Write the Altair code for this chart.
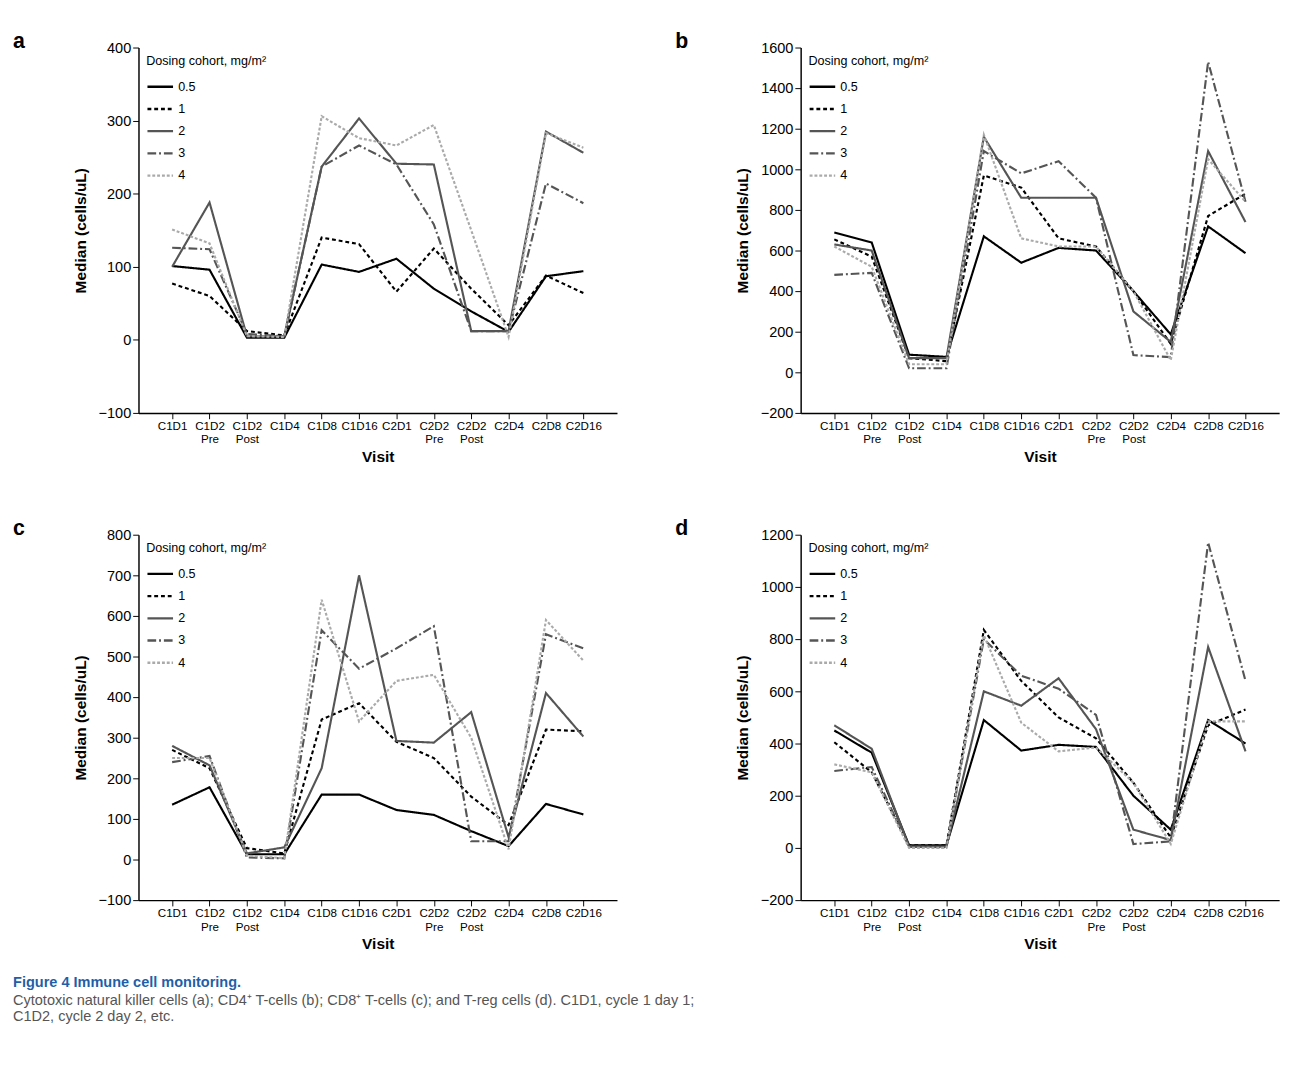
import altair as alt
import pandas as pd

visits = ["C1D1", "C1D2|Pre", "C1D2|Post", "C1D4", "C1D8", "C1D16", "C2D1",
          "C2D2|Pre", "C2D2|Post", "C2D4", "C2D8", "C2D16"]
cohorts = ["0.5", "1", "2", "3", "4"]

a_05 = [101, 96, 3, 3, 103, 93, 111, 70, 39, 11, 87, 94]
a_1 = [77, 60, 12, 6, 140, 131, 66, 125, 70, 20, 88, 64]
a_2 = [100, 188, 5, 5, 237, 303, 241, 240, 12, 12, 285, 256]
a_3 = [126, 124, 8, 5, 237, 266, 240, 158, 12, 12, 214, 187]
a_4 = [151, 132, 5, 4, 306, 276, 266, 294, 150, 4, 283, 263]

b_05 = [689, 640, 87, 76, 670, 540, 613, 600, 400, 187, 719, 587]
b_1 = [655, 570, 70, 55, 970, 910, 660, 620, 400, 140, 770, 880]
b_2 = [630, 600, 70, 70, 1160, 860, 860, 860, 300, 150, 1090, 740]
b_3 = [480, 490, 20, 20, 1090, 980, 1040, 860, 85, 75, 1530, 840]
b_4 = [620, 520, 40, 40, 1170, 660, 620, 620, 400, 60, 1050, 840]

c_05 = [135, 178, 13, 13, 160, 160, 122, 110, 70, 33, 137, 111]
c_1 = [270, 225, 28, 15, 345, 385, 290, 250, 155, 85, 320, 316]
c_2 = [280, 232, 15, 30, 225, 700, 292, 288, 363, 55, 410, 303]
c_3 = [240, 255, 5, 3, 565, 470, 520, 575, 45, 45, 555, 520]
c_4 = [250, 250, 10, 3, 640, 340, 440, 455, 300, 25, 590, 490]

d_05 = [450, 365, 10, 10, 490, 373, 395, 387, 200, 70, 490, 400]
d_1 = [405, 290, 10, 10, 835, 640, 500, 420, 250, 40, 470, 530]
d_2 = [470, 380, 5, 5, 600, 545, 650, 455, 70, 30, 770, 370]
d_3 = [295, 310, 5, 3, 800, 660, 610, 510, 15, 25, 1170, 640]
d_4 = [320, 290, 0, 0, 815, 480, 370, 385, 250, 15, 485, 485]

colors = ["#000000", "#000000", "#555555", "#555555", "#aaaaaa"]
dashes = [[1, 0], [4, 3], [1, 0], [9, 3, 2, 3], [3, 2]]
widths = [2.2, 2.2, 2, 2, 2]


def panel(letter, series, lo, hi, step):
    rows = []
    for c, vals in zip(cohorts, series):
        for v, y in zip(visits, vals):
            rows.append({"Visit": v, "cohort": c, "value": y})
    df = pd.DataFrame(rows)
    leg_title = "Dosing cohort, mg/m²"
    leg = dict(title=leg_title, orient="top-left", symbolType="stroke",
               symbolStrokeWidth=2.5, symbolSize=700, offset=8)
    return alt.Chart(df).mark_line().encode(
        x=alt.X("Visit:O", sort=visits, scale=alt.Scale(type="point", padding=0.9),
                axis=alt.Axis(title="Visit", labelAngle=0,
                              labelExpr="split(datum.label, '|')")),
        y=alt.Y("value:Q", scale=alt.Scale(domain=[lo, hi], nice=False),
                axis=alt.Axis(title="Median (cells/uL)", format="d",
                              values=list(range(lo, hi + 1, step)))),
        color=alt.Color("cohort:N", sort=cohorts,
                        scale=alt.Scale(domain=cohorts, range=colors),
                        legend=alt.Legend(**leg)),
        strokeDash=alt.StrokeDash("cohort:N", sort=cohorts,
                                  scale=alt.Scale(domain=cohorts, range=dashes),
                                  legend=alt.Legend(**leg)),
        strokeWidth=alt.StrokeWidth("cohort:N", scale=alt.Scale(domain=cohorts, range=widths),
                                    legend=None),
    ).properties(width=495, height=378,
                 title=alt.TitleParams(letter, anchor="start", fontSize=22,
                                       fontWeight="bold", dx=-62, offset=-12))


a = panel("a", [a_05, a_1, a_2, a_3, a_4], -100, 400, 100)
b = panel("b", [b_05, b_1, b_2, b_3, b_4], -200, 1600, 200)
c = panel("c", [c_05, c_1, c_2, c_3, c_4], -100, 800, 100)
d = panel("d", [d_05, d_1, d_2, d_3, d_4], -200, 1200, 200)

res = dict(color="independent", strokeDash="independent")
chart = alt.vconcat(
    alt.hconcat(a, b, spacing=60).resolve_scale(y="independent").resolve_legend(**res),
    alt.hconcat(c, d, spacing=60).resolve_scale(y="independent").resolve_legend(**res),
    spacing=55,
).resolve_scale(y="independent").resolve_legend(**res).properties(
    padding={"left": 5, "top": 5, "right": 5, "bottom": 5},
    title=alt.TitleParams(
        "Figure 4 Immune cell monitoring.",
        subtitle=["Cytotoxic natural killer cells (a); CD4⁺ T-cells (b); CD8⁺ T-cells (c); and T-reg cells (d). C1D1, cycle 1 day 1;",
                  "C1D2, cycle 2 day 2, etc."],
        orient="bottom", anchor="start", fontSize=15, subtitleFontSize=15,
        color="#1f5fa8", subtitleColor="#555555", offset=25)
).configure(font="Liberation Sans").configure_view(stroke=None).configure_axis(
    grid=False, domainColor="black", tickColor="black", labelColor="black",
    labelFontSize=12, titleFontSize=16, titleFontWeight="bold", titleColor="black",
    domainWidth=1.5, tickSize=6
).configure_axisY(titlePadding=10, labelFontSize=15).configure_legend(
    titleFontSize=13, titleFontWeight="normal", labelFontSize=13, rowPadding=1, labelColor="black", titleColor="black"
)

chart.save("out.html", embed_options={"renderer": "svg", "actions": False})
